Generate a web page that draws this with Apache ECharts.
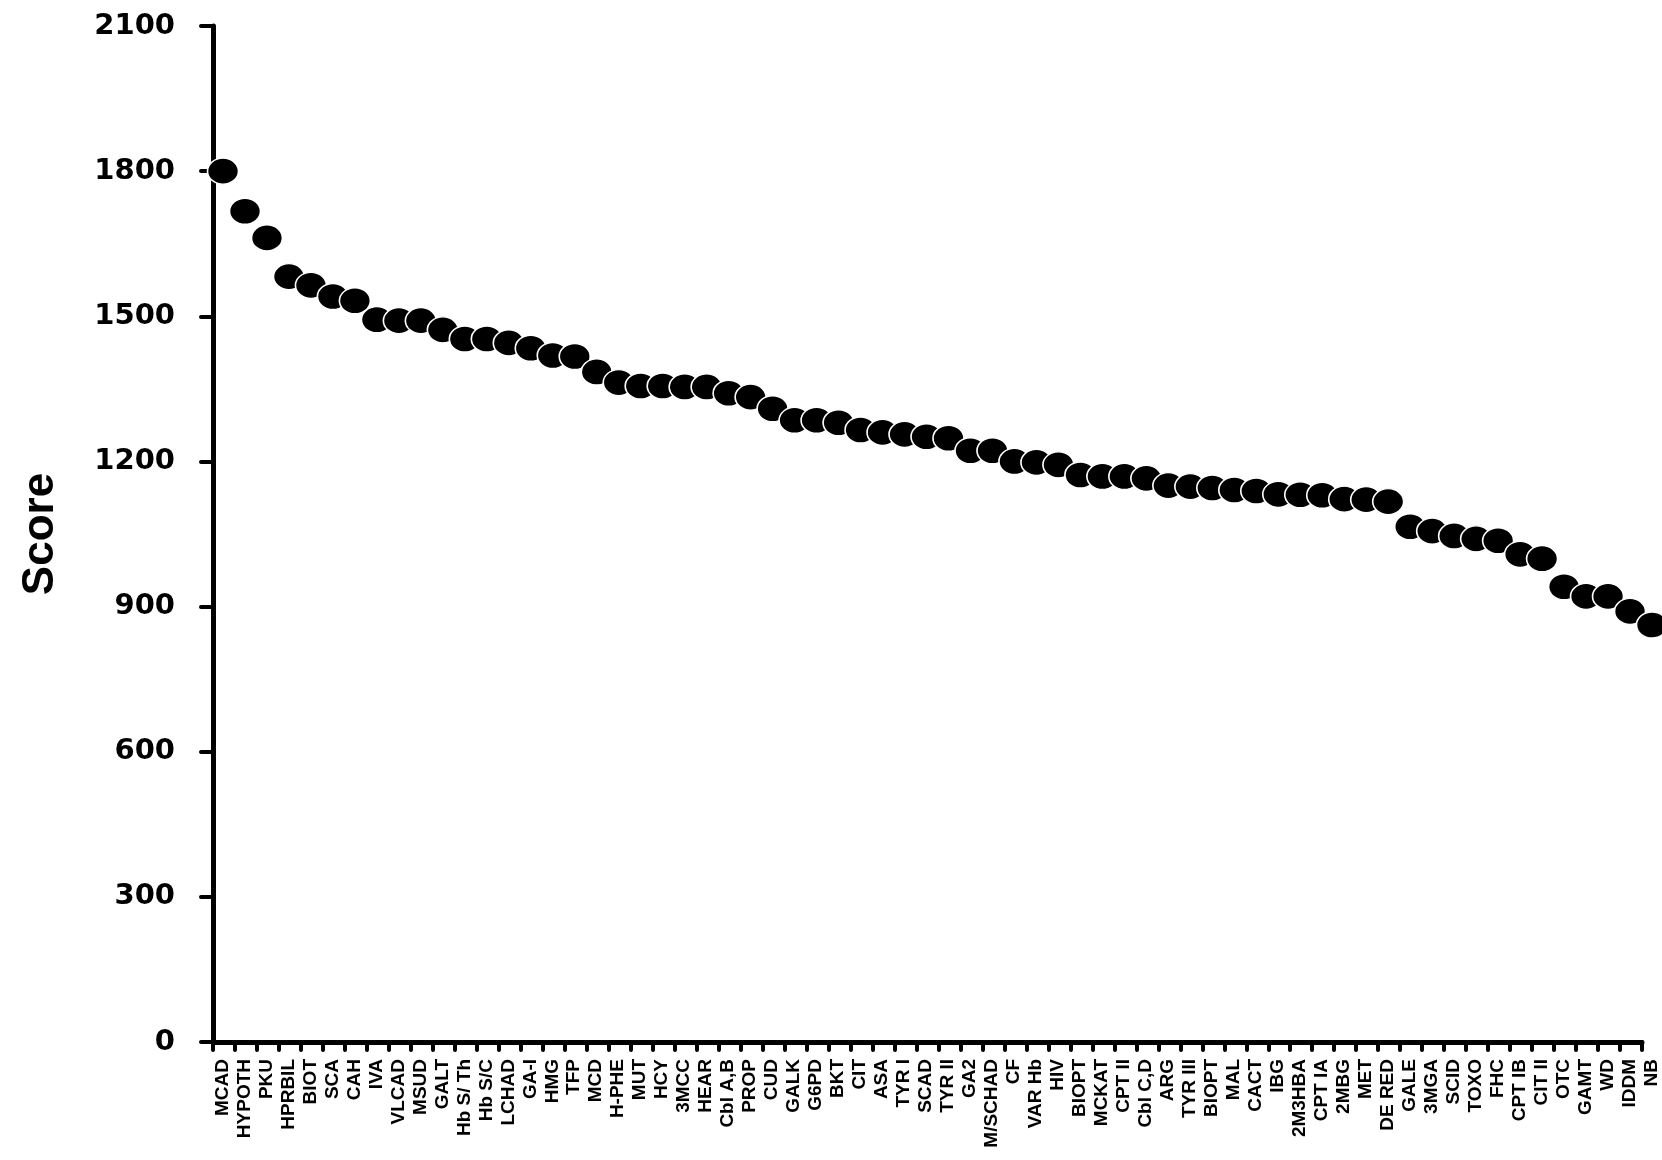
<!DOCTYPE html>
<html>
<head>
<meta charset="utf-8">
<script src="https://cdn.jsdelivr.net/npm/echarts@6/dist/echarts.min.js"></script>
<style>
html,body{margin:0;padding:0;background:#fff;}
#c{width:1662px;height:1160px;}
</style>
</head>
<body>
<div id="c"></div>
<script>
const categories = ["MCAD","HYPOTH","PKU","HPRBIL","BIOT","SCA","CAH","IVA","VLCAD","MSUD","GALT","Hb S/ Th","Hb S/C","LCHAD","GA-I","HMG","TFP","MCD","H-PHE","MUT","HCY","3MCC","HEAR","Cbl A,B","PROP","CUD","GALK","G6PD","BKT","CIT","ASA","TYR I","SCAD","TYR II","GA2","M/SCHAD","CF","VAR Hb","HIV","BIOPT","MCKAT","CPT II","Cbl C,D","ARG","TYR III","BIOPT","MAL","CACT","IBG","2M3HBA","CPT IA","2MBG","MET","DE RED","GALE","3MGA","SCID","TOXO","FHC","CPT IB","CIT II","OTC","GAMT","WD","IDDM","NB"];
const scores = [1800,1717,1662,1582,1564,1541,1532,1493,1491,1491,1472,1453,1453,1445,1434,1419,1417,1385,1363,1356,1356,1354,1354,1341,1333,1309,1285,1285,1280,1265,1260,1256,1251,1248,1222,1222,1200,1198,1193,1172,1169,1169,1165,1150,1148,1145,1141,1139,1132,1131,1130,1122,1121,1117,1065,1056,1046,1040,1036,1008,999,941,921,921,890,862];
const yTicks = {min:0, max:2100, step:300};

const font = '"Liberation Sans", Arial, Helvetica, sans-serif';
const chart = echarts.init(document.getElementById('c'), null, {renderer:'canvas'});
chart.setOption({
  animation:false,
  backgroundColor:'#ffffff',
  grid:{left:213, right:20, top:26, bottom:118, containLabel:false},
  xAxis:{
    type:'category',
    data:categories,
    boundaryGap:false,
    axisLine:{show:true, lineStyle:{color:'#000', width:5}},
    axisTick:{show:true, interval:0, length:8, lineStyle:{color:'#000', width:4, cap:'round'}},
    axisLabel:{interval:0, rotate:90, margin:17, color:'#000', fontFamily:font, fontWeight:'bold', fontSize:19, verticalAlign:'top'},
    splitLine:{show:false}
  },
  yAxis:{
    type:'value',
    min:yTicks.min, max:yTicks.max, interval:yTicks.step,
    name:'Score', nameLocation:'middle', nameRotate:90, nameGap:150,
    nameTextStyle:{color:'#000', fontFamily:font, fontWeight:'bold', fontSize:44},
    axisLine:{show:true, lineStyle:{color:'#000', width:5}},
    axisTick:{show:true, length:12, lineStyle:{color:'#000', width:4, cap:'round'}},
    axisLabel:{margin:38, color:'#000', fontFamily:'"DejaVu Sans", "Liberation Sans", sans-serif', fontWeight:'bold', fontSize:29,
      formatter:function(v){return String(v);}},
    splitLine:{show:false}
  },
  series:[{
    type:'scatter',
    data:scores,
    symbol:'circle',
    symbolSize:[31,26],
    symbolOffset:[10,0],
    itemStyle:{color:'#000', borderColor:'#fff', borderWidth:1.5, opacity:1},
    clip:false
  }]
});
</script>
</body>
</html>
